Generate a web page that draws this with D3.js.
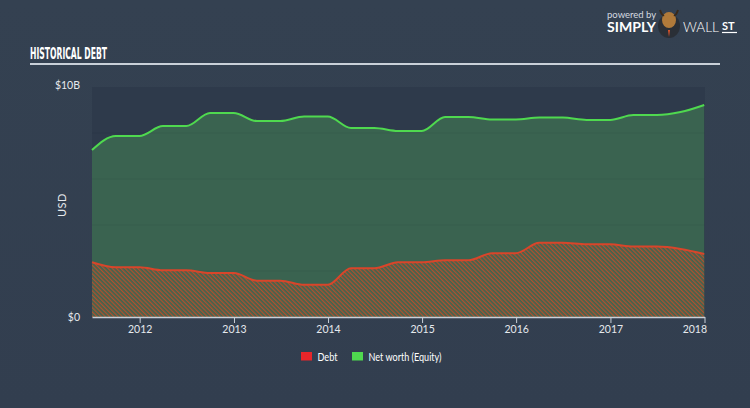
<!DOCTYPE html>
<html>
<head>
<meta charset="utf-8">
<script src="https://cdn.jsdelivr.net/npm/d3@7"></script>
<style>
  html, body { margin: 0; padding: 0; background: #333f50; }
  svg { display: block; }
</style>
</head>
<body>
<svg id="chart" width="750" height="408"></svg>
<script>
// ---- Data (values in billions USD) ----
const dates = [
  "2011-06-30","2011-09-30","2011-12-31",
  "2012-03-31","2012-06-30","2012-09-30","2012-12-31",
  "2013-03-31","2013-06-30","2013-09-30","2013-12-31",
  "2014-03-31","2014-06-30","2014-09-30","2014-12-31",
  "2015-03-31","2015-06-30","2015-09-30","2015-12-31",
  "2016-03-31","2016-06-30","2016-09-30","2016-12-31",
  "2017-03-31","2017-06-30","2017-09-30","2017-12-31"
];
const debt = [
  2.38, 2.16, 2.16,
  2.03, 2.03, 1.91, 1.91,
  1.58, 1.58, 1.40, 1.40,
  2.12, 2.12, 2.38, 2.38,
  2.47, 2.47, 2.77, 2.77,
  3.23, 3.23, 3.16, 3.16,
  3.06, 3.06, 2.96, 2.74
];
const equity = [
  7.26, 7.87, 7.87,
  8.30, 8.30, 8.87, 8.87,
  8.52, 8.52, 8.72, 8.72,
  8.22, 8.22, 8.09, 8.09,
  8.70, 8.70, 8.59, 8.59,
  8.67, 8.67, 8.57, 8.57,
  8.78, 8.78, 8.91, 9.22
];
const yearTicks = [2012, 2013, 2014, 2015, 2016, 2017, 2018];
const yTickValues = [0, 10];
const yTickLabels = ["$0", "$10B"];
const legendItems = [
  { label: "Debt", color: "#e8262a" },
  { label: "Net worth (Equity)", color: "#4fd94f" }
];

(function () {
const parse = d3.timeParse("%Y-%m-%d");
const rows = dates.map((d, i) => ({ date: parse(d), debt: debt[i], equity: equity[i] }));

const svg = d3.select("#chart");
const W = 750, H = 408;
const pLeft = 92, pRight = 704.5, pTop = 87, pBottom = 317;

// Background gradient
const defs = svg.append("defs");
const bg = defs.append("linearGradient").attr("id", "bg").attr("x1", 0).attr("y1", 0).attr("x2", 0).attr("y2", 1);
bg.append("stop").attr("offset", "0%").attr("stop-color", "#344151");
bg.append("stop").attr("offset", "100%").attr("stop-color", "#323e4f");
svg.append("rect").attr("width", W).attr("height", H).attr("fill", "url(#bg)");

// Hatch pattern for debt
const pat = defs.append("pattern").attr("id", "hatch").attr("patternUnits", "userSpaceOnUse")
  .attr("width", 3).attr("height", 3).attr("patternTransform", "rotate(-45)");
pat.append("rect").attr("width", 3).attr("height", 3).attr("fill", "#3d6550");
pat.append("rect").attr("width", 1.3).attr("height", 3).attr("fill", "#b0502f");

const x = d3.scaleTime().domain([parse("2011-06-30"), parse("2018-01-01")]).range([pLeft, pRight]);
const y = d3.scaleLinear().domain([0, 10]).range([pBottom, pTop]);

// Plot background
svg.append("rect").attr("x", pLeft).attr("y", pTop).attr("width", pRight - pLeft + 0.5).attr("height", pBottom - pTop)
  .attr("fill", "#2e3a4b");

// Equity area
const curve = d3.curveMonotoneX;
svg.append("path").datum(rows)
  .attr("fill", "#3a6350")
  .attr("d", d3.area().curve(curve).x(d => x(d.date)).y0(y(0)).y1(d => y(d.equity)));

// Faint grid bands
svg.append("g").selectAll("line").data([2, 4, 6, 8]).join("line")
  .attr("x1", pLeft).attr("x2", pRight).attr("y1", d => y(d)).attr("y2", d => y(d))
  .attr("stroke", "#000").attr("stroke-opacity", 0.05).attr("stroke-width", 1);

// Debt area (hatched)
svg.append("path").datum(rows)
  .attr("fill", "url(#hatch)")
  .attr("d", d3.area().curve(curve).x(d => x(d.date)).y0(y(0)).y1(d => y(d.debt)));

// Lines
svg.append("path").datum(rows)
  .attr("fill", "none").attr("stroke", "#4fd94f").attr("stroke-width", 2)
  .attr("d", d3.line().curve(curve).x(d => x(d.date)).y(d => y(d.equity)));
svg.append("path").datum(rows)
  .attr("fill", "none").attr("stroke", "#d9452a").attr("stroke-width", 2)
  .attr("d", d3.line().curve(curve).x(d => x(d.date)).y(d => y(d.debt)));

// X axis
const xAxis = d3.axisBottom(x)
  .tickValues(yearTicks.map(yr => new Date(yr, 0, 1)))
  .tickFormat(d3.timeFormat("%Y"))
  .tickSizeInner(6).tickSizeOuter(0).tickPadding(3);
const gx = svg.append("g").attr("transform", `translate(0,${pBottom})`).call(xAxis);
gx.select(".domain").attr("stroke", "#c9d0d8").attr("stroke-width", 1.5);
gx.selectAll(".tick line").attr("stroke", "#c9d0d8");
gx.selectAll(".tick text").attr("fill", "#e6e9ed").attr("font-family", "Lato, 'Open Sans', sans-serif").attr("font-size", 10.5);
gx.selectAll(".tick").filter(d => d.getFullYear() === 2018).select("text").attr("text-anchor", "end").attr("dx", 2);

// Y labels
const yAxis = d3.axisLeft(y).tickValues(yTickValues).tickFormat((d, i) => yTickLabels[i]).tickSize(0).tickPadding(12);
const gy = svg.append("g").attr("transform", `translate(${pLeft},0)`).call(yAxis);
gy.select(".domain").remove();
gy.selectAll(".tick text").attr("fill", "#e6e9ed").attr("font-family", "Lato, 'Open Sans', sans-serif").attr("font-size", 10.5);
gy.selectAll(".tick").filter(d => d === 10).select("text").attr("dy", "0.1em");

svg.append("text").attr("transform", `translate(66,${(pTop + pBottom) / 2 + 3}) rotate(-90)`)
  .attr("text-anchor", "middle").attr("fill", "#e6e9ed")
  .attr("font-family", "Lato, 'Open Sans', sans-serif").attr("font-size", 11).attr("letter-spacing", 0.5)
  .text("USD");

// Title
svg.append("text").attr("x", 30).attr("y", 58.5)
  .attr("fill", "#ffffff").attr("font-family", "'DejaVu Sans Condensed', 'Liberation Sans Narrow', sans-serif")
  .attr("font-weight", "bold").attr("font-size", 15)
  .attr("textLength", 77).attr("lengthAdjust", "spacingAndGlyphs")
  .text("HISTORICAL DEBT");
svg.append("line").attr("x1", 30).attr("x2", 720).attr("y1", 64).attr("y2", 64)
  .attr("stroke", "#c9d0d8").attr("stroke-width", 2);

// Logo
const logo = svg.append("g");
logo.append("text").attr("x", 607).attr("y", 18).attr("fill", "#d5dae0")
  .attr("font-family", "Lato, sans-serif").attr("font-size", 9.5).text("powered by");
logo.append("text").attr("x", 607).attr("y", 32).attr("fill", "#ffffff")
  .attr("font-family", "Lato, sans-serif").attr("font-weight", "bold").attr("font-size", 13.5)
  .attr("textLength", 49).attr("lengthAdjust", "spacingAndGlyphs").text("SIMPLY");
logo.append("ellipse").attr("cx", 669).attr("cy", 26).attr("rx", 11).attr("ry", 12).attr("fill", "#2a2f36");
logo.append("ellipse").attr("cx", 669).attr("cy", 20).attr("rx", 7).attr("ry", 8).attr("fill", "#b07a3a");
logo.append("path").attr("d", "M660,10 Q662,16 664,15 M678,10 Q676,16 674,15").attr("stroke", "#3a2a1a").attr("stroke-width", 2).attr("fill", "none");
logo.append("path").attr("d", "M668,30 L670,30 L669,37 Z").attr("fill", "#e0552a");
logo.append("text").attr("x", 683).attr("y", 32).attr("fill", "#ffffff")
  .attr("font-family", "Lato, sans-serif").attr("font-weight", 300).attr("font-size", 13.5)
  .attr("textLength", 36).attr("lengthAdjust", "spacingAndGlyphs").text("WALL");
logo.append("text").attr("x", 722).attr("y", 30).attr("fill", "#ffffff")
  .attr("font-family", "Lato, sans-serif").attr("font-weight", "bold").attr("font-size", 11)
  .text("ST");
logo.append("line").attr("x1", 722).attr("x2", 737).attr("y1", 32.5).attr("y2", 32.5).attr("stroke", "#ffffff").attr("stroke-width", 1.2);

// Legend
const legend = svg.append("g").attr("transform", "translate(301,352)");
const lx = [0, 51];
const lw = [20, 73];
legendItems.forEach((it, i) => {
  const g = legend.append("g").attr("transform", `translate(${lx[i]},0)`);
  g.append("rect").attr("width", 11).attr("height", 8.5).attr("fill", it.color);
  g.append("text").attr("x", 16.5).attr("y", 8.5).attr("fill", "#ffffff")
    .attr("font-family", "Lato, 'Open Sans', sans-serif").attr("font-size", 10.5)
    .attr("textLength", lw[i]).attr("lengthAdjust", "spacingAndGlyphs").text(it.label);
});
})();
</script>
</body>
</html>
